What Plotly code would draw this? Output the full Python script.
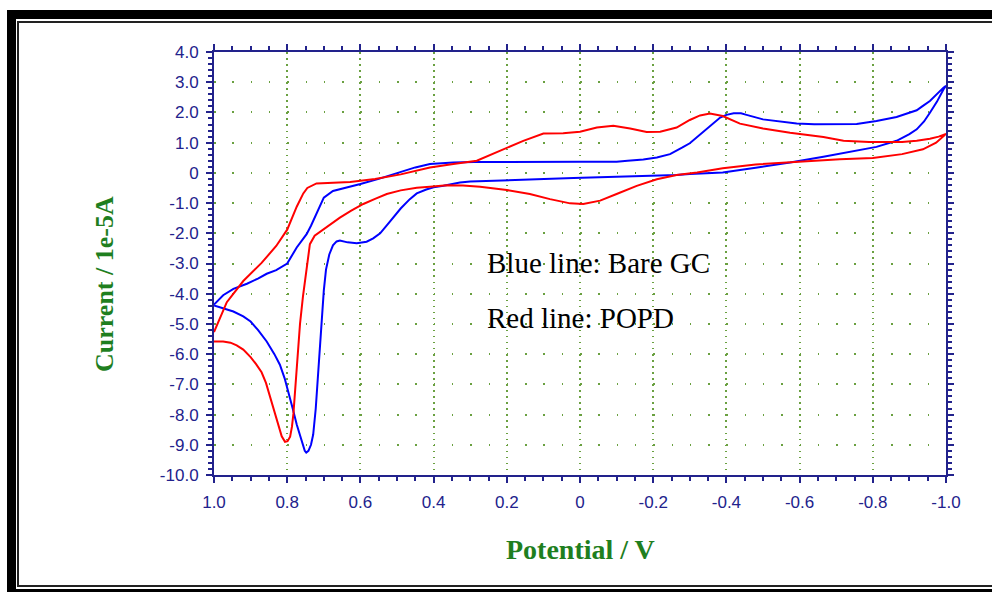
import plotly.graph_objects as go

# Cyclic voltammograms: potential (V) and current (units of 1e-5 A), in sweep order
bare_gc_potential = [
    1.00, 0.975, 0.947, 0.92, 0.90, 0.88, 0.856, 0.835, 0.82, 0.807, 0.797, 0.785,
    0.774, 0.762, 0.752, 0.748, 0.742, 0.735, 0.729, 0.722, 0.715, 0.706, 0.700,
    0.694, 0.685, 0.675, 0.665, 0.656, 0.635, 0.61, 0.583, 0.565, 0.546, 0.52,
    0.49, 0.465, 0.446, 0.42, 0.40, 0.373, 0.35, 0.328, 0.30, 0.246, 0.18, 0.118,
    0.018, -0.118, -0.264, -0.30, -0.39, -0.48, -0.574, -0.665, -0.756, -0.81,
    -0.865, -0.90, -0.92, -0.94, -0.956, -0.975, -0.993, -1.00,
    -0.993, -0.975, -0.956, -0.935, -0.92, -0.865, -0.81, -0.756, -0.70, -0.64,
    -0.592, -0.546, -0.50, -0.455, -0.44, -0.42, -0.40, -0.383, -0.355, -0.32,
    -0.30, -0.28, -0.246, -0.21, -0.173, -0.13, -0.10, 0.0, 0.10, 0.20, 0.29,
    0.346, 0.41, 0.45, 0.49, 0.55, 0.60, 0.64, 0.675, 0.70, 0.72, 0.735, 0.747,
    0.774, 0.80, 0.83, 0.856, 0.88, 0.91, 0.947, 0.975, 1.00,
]
bare_gc_current = [
    -4.39, -4.48, -4.59, -4.75, -4.92, -5.20, -5.58, -6.00, -6.35, -6.80, -7.23, -7.80,
    -8.33, -8.85, -9.20, -9.26, -9.20, -9.00, -8.66, -7.80, -6.46, -4.81, -3.90,
    -3.20, -2.70, -2.40, -2.27, -2.24, -2.30, -2.33, -2.28, -2.17, -2.00, -1.62,
    -1.18, -0.87, -0.68, -0.55, -0.48, -0.43, -0.37, -0.32, -0.29, -0.26, -0.23, -0.21,
    -0.17, -0.13, -0.07, -0.04, 0.01, 0.17, 0.34, 0.53, 0.73, 0.86,
    1.06, 1.28, 1.44, 1.70, 1.99, 2.35, 2.76, 2.88,
    2.82, 2.60, 2.38, 2.20, 2.07, 1.85, 1.72, 1.62, 1.61, 1.61,
    1.63, 1.69, 1.77, 1.92, 1.97, 1.97, 1.92, 1.83, 1.55, 1.17,
    0.98, 0.84, 0.62, 0.51, 0.44, 0.40, 0.37, 0.37, 0.37, 0.36, 0.36,
    0.34, 0.29, 0.18, 0.02, -0.20, -0.37, -0.50, -0.60, -0.82, -1.37, -1.75, -2.03,
    -2.47, -3.00, -3.22, -3.34, -3.50, -3.67, -3.84, -4.05, -4.36,
]

popd_potential = [
    1.00, 0.975, 0.955, 0.938, 0.92, 0.90, 0.885, 0.87, 0.858, 0.847, 0.835, 0.824,
    0.815, 0.806, 0.799, 0.792, 0.787, 0.783, 0.778, 0.774, 0.765, 0.757, 0.75,
    0.744, 0.738, 0.725, 0.706, 0.68, 0.656, 0.625, 0.592, 0.56, 0.528, 0.49,
    0.446, 0.41, 0.364, 0.32, 0.273, 0.20, 0.137, 0.082, 0.027, -0.009, -0.055,
    -0.10, -0.155, -0.21, -0.264, -0.32, -0.39, -0.48, -0.60, -0.71, -0.80, -0.88,
    -0.937, -0.973, -1.00,
    -0.98, -0.956, -0.92, -0.88, -0.79, -0.72, -0.665, -0.574, -0.50, -0.437,
    -0.39, -0.355, -0.328, -0.30, -0.264, -0.219, -0.182, -0.137, -0.091, -0.046,
    0.0, 0.046, 0.10, 0.155, 0.21, 0.282, 0.346, 0.41, 0.49, 0.56, 0.628, 0.72,
    0.745, 0.756, 0.774, 0.80, 0.83, 0.87, 0.92, 0.965, 1.00,
]
popd_current = [
    -5.58, -5.58, -5.62, -5.71, -5.85, -6.10, -6.33, -6.60, -6.95, -7.40, -7.90, -8.40,
    -8.72, -8.90, -8.88, -8.73, -8.40, -7.97, -7.20, -6.43, -5.00, -4.10, -3.46,
    -2.85, -2.36, -2.08, -1.91, -1.70, -1.48, -1.25, -1.03, -0.86, -0.70, -0.58,
    -0.49, -0.46, -0.41, -0.42, -0.46, -0.57, -0.70, -0.87, -1.01, -1.03, -0.92,
    -0.70, -0.43, -0.21, -0.07, 0.01, 0.15, 0.28, 0.37, 0.45, 0.49, 0.62,
    0.78, 1.00, 1.29,
    1.20, 1.13, 1.06, 1.02, 1.02, 1.06, 1.19, 1.33, 1.47, 1.63,
    1.88, 1.96, 1.90, 1.75, 1.50, 1.36, 1.35, 1.47, 1.56, 1.50,
    1.36, 1.31, 1.30, 1.06, 0.78, 0.40, 0.29, 0.18, -0.05, -0.20, -0.30, -0.35,
    -0.50, -0.68, -1.12, -1.88, -2.42, -2.98, -3.58, -4.28, -5.27,
]

x_tick_values = [1.0, 0.8, 0.6, 0.4, 0.2, 0.0, -0.2, -0.4, -0.6, -0.8, -1.0]
x_tick_labels = ["1.0", "0.8", "0.6", "0.4", "0.2", "0", "-0.2", "-0.4", "-0.6", "-0.8", "-1.0"]
y_tick_values = [4, 3, 2, 1, 0, -1, -2, -3, -4, -5, -6, -7, -8, -9, -10]
y_tick_labels = ["4.0", "3.0", "2.0", "1.0", "0", "-1.0", "-2.0", "-3.0", "-4.0",
                 "-5.0", "-6.0", "-7.0", "-8.0", "-9.0", "-10.0"]

WIDTH, HEIGHT = 992, 592
L, T, R, B = 214, 52, 46, 117
PW, PH = WIDTH - L - R, HEIGHT - T - B

AXIS = "#22228c"
GRID = "#6aa040"
TITLE_GREEN = "#1f7f1f"
SERIF = "Liberation Serif, Times New Roman"


def px_x(p):
    return (p - L) / PW


def px_y(p):
    return 1 - (p - T) / PH


fig = go.Figure()
fig.add_trace(go.Scatter(x=bare_gc_potential, y=bare_gc_current, mode="lines",
                         line=dict(color="#0000ff", width=2), name="Bare GC"))
fig.add_trace(go.Scatter(x=popd_potential, y=popd_current, mode="lines",
                         line=dict(color="#ff0000", width=2), name="POPD"))

x_step = PW / 2 * 0.05     # pixel spacing of 0.05 V
y_step = PH / 14 * 0.2     # pixel spacing of 0.2 units

common = dict(showline=True, linecolor=AXIS, linewidth=2, mirror="allticks",
              ticks="outside", ticklen=6, tickwidth=2, tickcolor=AXIS,
              zeroline=False, showgrid=True, gridcolor=GRID, gridwidth=1.5,
              tickfont=dict(family="Liberation Sans, Arial", size=17, color=AXIS),
              tickmode="array")

fig.update_xaxes(range=[1.0, -1.0], tickvals=x_tick_values, ticktext=x_tick_labels,
                 griddash=f"1.5px,{y_step - 1.5:.2f}px",
                 minor=dict(tickmode="linear", tick0=0, dtick=0.05, ticklen=4,
                            tickwidth=1.5, tickcolor=AXIS, ticks="outside",
                            showgrid=False),
                 ticklabelstandoff=5, **common)
fig.update_yaxes(range=[-10, 4], tickvals=y_tick_values, ticktext=y_tick_labels,
                 griddash=f"1.5px,{x_step - 1.5:.2f}px",
                 minor=dict(tickmode="linear", tick0=0, dtick=0.2, ticklen=4,
                            tickwidth=1.5, tickcolor=AXIS, ticks="outside",
                            showgrid=False),
                 ticklabelstandoff=4, **common)

# Double frame around the figure
shapes = [
    dict(type="rect", xref="paper", yref="paper",
         x0=px_x(11.5), x1=px_x(1010), y0=px_y(14.5), y1=px_y(593.5),
         line=dict(color="black", width=9)),
    dict(type="rect", xref="paper", yref="paper",
         x0=px_x(18), x1=px_x(1010), y0=px_y(22), y1=px_y(586),
         line=dict(color="#222222", width=2)),
]

annotations = [
    dict(text="Blue line: Bare GC", x=px_x(485), y=px_y(263), xref="paper", yref="paper",
         xanchor="left", yanchor="middle", showarrow=False,
         font=dict(family=SERIF, size=29, color="black")),
    dict(text="Red line: POPD", x=px_x(485), y=px_y(318), xref="paper", yref="paper",
         xanchor="left", yanchor="middle", showarrow=False,
         font=dict(family=SERIF, size=29, color="black")),
    dict(text="<b>Potential / V</b>", x=px_x(580), y=px_y(549), xref="paper", yref="paper",
         xanchor="center", yanchor="middle", showarrow=False,
         font=dict(family=SERIF, size=28, color=TITLE_GREEN)),
    dict(text="<b>Current / 1e-5A</b>", x=px_x(104), y=px_y(284), xref="paper", yref="paper",
         xanchor="center", yanchor="middle", showarrow=False, textangle=-90,
         font=dict(family=SERIF, size=26, color=TITLE_GREEN)),
]

fig.update_layout(width=WIDTH, height=HEIGHT, margin=dict(l=L, r=R, t=T, b=B),
                  paper_bgcolor="white", plot_bgcolor="white", showlegend=False,
                  shapes=shapes, annotations=annotations)

fig.write_html("out.html")
